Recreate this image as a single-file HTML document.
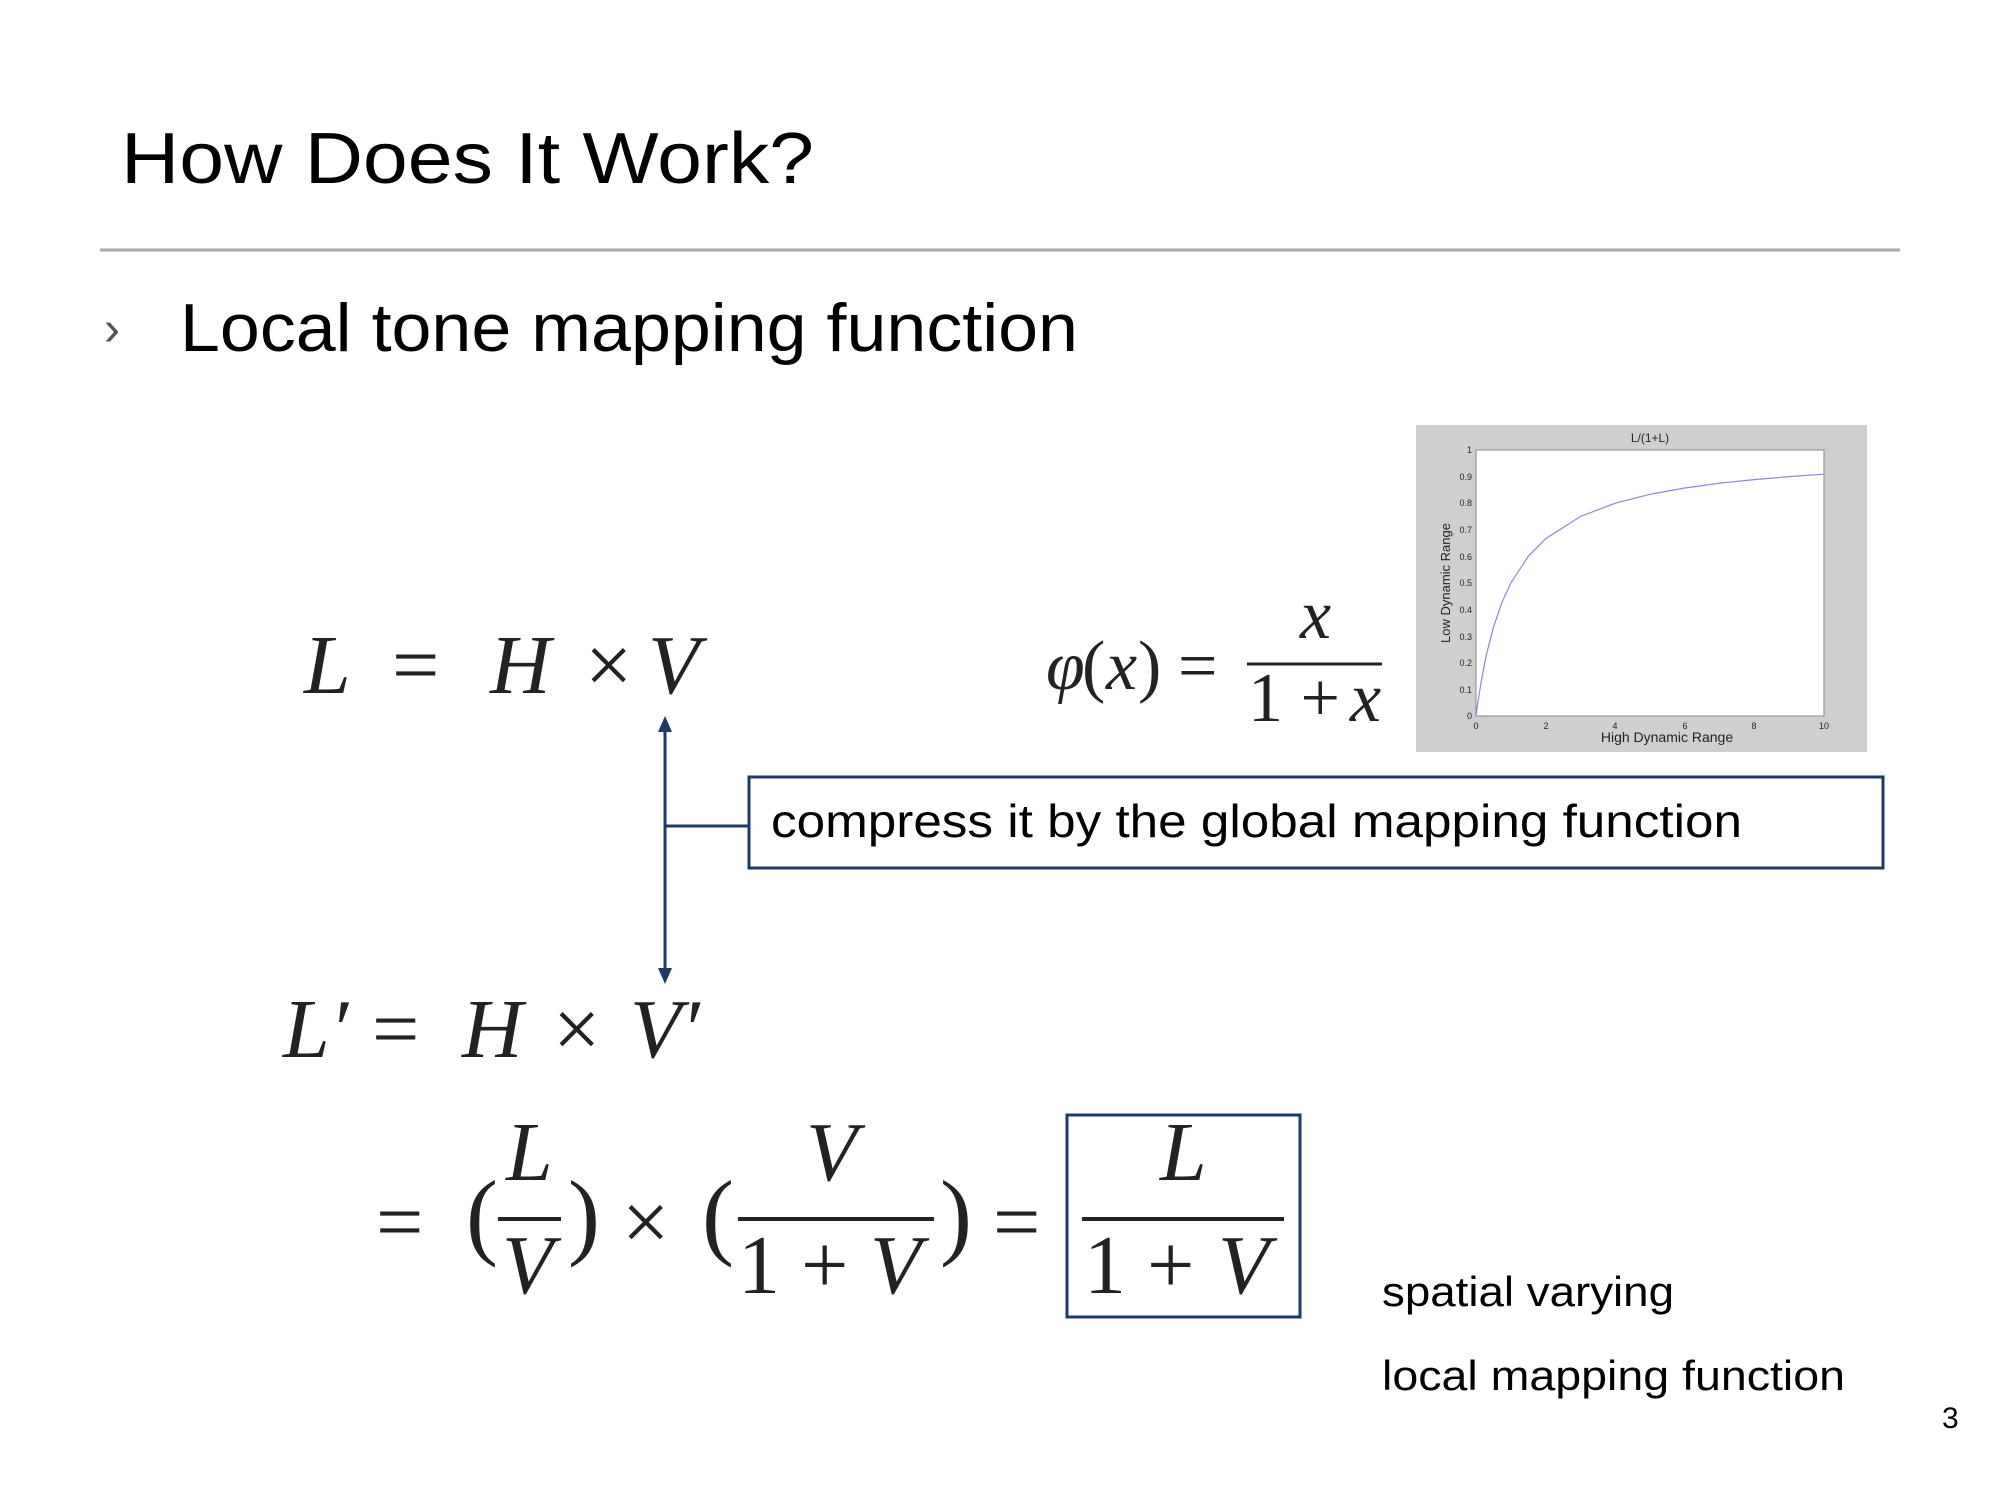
<!DOCTYPE html>
<html><head><meta charset="utf-8"><style>
html,body{margin:0;padding:0;background:#fff;}
svg{display:block;}
.m{font-family:"Liberation Serif",serif;font-style:italic;fill:#222;}
.r{font-family:"Liberation Serif",serif;fill:#222;}
.s{font-family:"Liberation Sans",sans-serif;fill:#000;}
</style></head><body>
<svg width="2000" height="1500" viewBox="0 0 2000 1500" xmlns="http://www.w3.org/2000/svg">
<text x="121" y="183" class="s" font-size="72" textLength="693" lengthAdjust="spacingAndGlyphs">How Does It Work?</text>
<line x1="100" y1="250" x2="1900" y2="250" stroke="#aaa" stroke-width="3"/>
<text x="104" y="345" class="s" font-size="48" style="fill:#555">›</text>
<text x="180" y="351" class="s" font-size="68" textLength="898" lengthAdjust="spacingAndGlyphs">Local tone mapping function</text>

<text x="304" y="693" class="m" font-size="84">L</text>
<text x="392" y="693" class="r" font-size="84">=</text>
<text x="490" y="693" class="m" font-size="84">H</text>
<text x="585" y="693" class="r" font-size="84">×</text>
<text x="648" y="693" class="m" font-size="84">V</text>

<text x="1046" y="689" class="m" font-size="70">φ</text>
<text x="1082" y="689" class="r" font-size="70">(</text>
<text x="1106" y="689" class="m" font-size="70">x</text>
<text x="1138" y="689" class="r" font-size="70">)</text>
<text x="1178" y="689" class="r" font-size="70">=</text>
<line x1="1247" y1="664" x2="1382" y2="664" stroke="#222" stroke-width="3"/>
<text x="1300" y="638" class="m" font-size="70">x</text>
<text x="1248" y="721" class="r" font-size="70">1 + </text>
<text x="1350" y="721" class="m" font-size="70">x</text>

<rect x="1416" y="425" width="451" height="327" fill="#cfcfcf"/>
<rect x="1476" y="450" width="348" height="266" fill="#fff" stroke="#888" stroke-width="1"/>
<text x="1650" y="442" font-family="Liberation Sans" font-size="12" text-anchor="middle" fill="#222">L/(1+L)</text>
<g font-family="Liberation Sans" font-size="9" fill="#222" text-anchor="end">
<text x="1472" y="453">1</text><text x="1472" y="480">0.9</text><text x="1472" y="506">0.8</text><text x="1472" y="533">0.7</text><text x="1472" y="560">0.6</text><text x="1472" y="586">0.5</text><text x="1472" y="613">0.4</text><text x="1472" y="640">0.3</text><text x="1472" y="666">0.2</text><text x="1472" y="693">0.1</text><text x="1472" y="719">0</text>
</g>
<g font-family="Liberation Sans" font-size="9" fill="#222" text-anchor="middle">
<text x="1476" y="729">0</text><text x="1546" y="729">2</text><text x="1615" y="729">4</text><text x="1685" y="729">6</text><text x="1754" y="729">8</text><text x="1824" y="729">10</text>
</g>
<text x="1667" y="742" font-family="Liberation Sans" font-size="14" text-anchor="middle" fill="#222">High Dynamic Range</text>
<text transform="translate(1450,583) rotate(-90)" font-family="Liberation Sans" font-size="13" text-anchor="middle" fill="#222">Low Dynamic Range</text>
<polyline fill="none" stroke="#8888dd" stroke-width="1.2" points="1476,716 1477.7,703.3 1479.5,691.8 1483,671.7 1486.4,654.6 1493.4,627.3 1502.1,602 1510.8,583 1528.2,556.4 1545.6,538.7 1580.4,516.5 1615.2,503.2 1650,494.3 1684.8,488 1719.6,483.2 1754.4,479.6 1789.2,476.6 1824,474.2"/>

<line x1="665" y1="728" x2="665" y2="972" stroke="#1f3a64" stroke-width="3"/>
<polygon points="665,716 658,732 672,732" fill="#1f3a64"/>
<polygon points="665,984 658,968 672,968" fill="#1f3a64"/>
<line x1="665" y1="826" x2="749" y2="826" stroke="#1f3a64" stroke-width="3"/>
<rect x="749" y="777" width="1134" height="91" fill="none" stroke="#1f3a64" stroke-width="3"/>
<text x="771" y="837" class="s" font-size="46" textLength="971" lengthAdjust="spacingAndGlyphs">compress it by the global mapping function</text>

<text x="283" y="1057" class="m" font-size="84">L′</text>
<text x="372" y="1057" class="r" font-size="84">=</text>
<text x="462" y="1057" class="m" font-size="84">H</text>
<text x="553" y="1057" class="r" font-size="84">×</text>
<text x="630" y="1057" class="m" font-size="84">V′</text>

<text x="376" y="1250" class="r" font-size="84">=</text>
<text x="466" y="1247" class="r" font-size="96" transform="scale(1,1)">(</text>
<line x1="498" y1="1219" x2="561" y2="1219" stroke="#222" stroke-width="4"/>
<text x="506" y="1180" class="m" font-size="84">L</text>
<text x="502" y="1293" class="m" font-size="84">V</text>
<text x="568" y="1247" class="r" font-size="96">)</text>
<text x="622" y="1250" class="r" font-size="84">×</text>
<text x="702" y="1247" class="r" font-size="96">(</text>
<line x1="738" y1="1219" x2="934" y2="1219" stroke="#222" stroke-width="4"/>
<text x="806" y="1180" class="m" font-size="84">V</text>
<text x="738" y="1293" class="r" font-size="84">1 + </text>
<text x="870" y="1293" class="m" font-size="84">V</text>
<text x="940" y="1247" class="r" font-size="96">)</text>
<text x="993" y="1250" class="r" font-size="84">=</text>
<rect x="1067" y="1115" width="233" height="202" fill="none" stroke="#1f3a64" stroke-width="3"/>
<line x1="1082" y1="1219" x2="1284" y2="1219" stroke="#222" stroke-width="4"/>
<text x="1160" y="1180" class="m" font-size="84">L</text>
<text x="1084" y="1293" class="r" font-size="84">1 + </text>
<text x="1218" y="1293" class="m" font-size="84">V</text>

<text x="1382" y="1306" class="s" font-size="42" textLength="292" lengthAdjust="spacingAndGlyphs">spatial varying</text>
<text x="1382" y="1390" class="s" font-size="42" textLength="463" lengthAdjust="spacingAndGlyphs">local mapping function</text>
<text x="1942" y="1428" class="s" font-size="30">3</text>
</svg>
</body></html>
